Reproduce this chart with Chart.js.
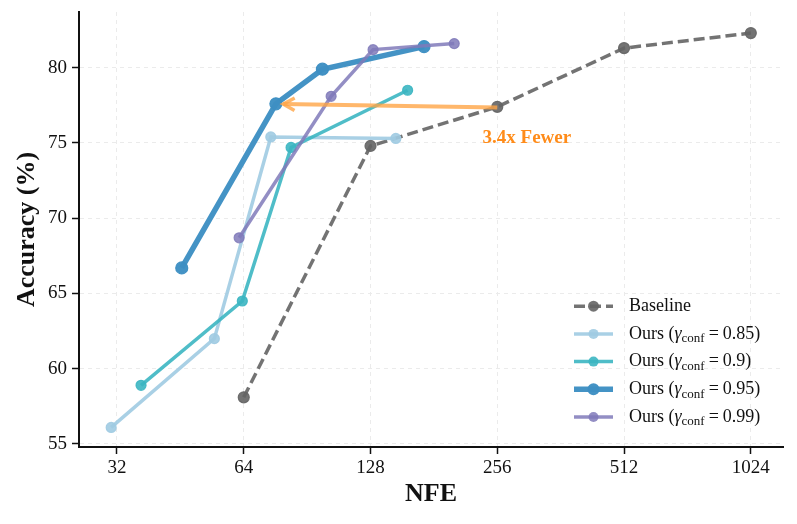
<!DOCTYPE html>
<html>
<head>
<meta charset="utf-8">
<script src="https://cdn.jsdelivr.net/npm/chart.js@4.4.1/dist/chart.umd.min.js"></script>
<style>
  html, body { margin: 0; padding: 0; background: #fff; }
  #wrap { width: 797px; height: 524px; }
</style>
</head>
<body>
<div id="wrap"><canvas id="chart" width="797" height="524"></canvas></div>
<script>
// values (NFE on a log2 axis)
const xTicks = [32, 64, 128, 256, 512, 1024];
const yTicks = [55, 60, 65, 70, 75, 80];

const baselineNfe = [64, 128, 256, 512, 1024];
const baselineAcc = [58.1, 74.8, 77.4, 81.3, 82.3];

const conf085Nfe = [31, 54.5, 74.2, 147];
const conf085Acc = [56.1, 62.0, 75.4, 75.3];

const conf09Nfe = [36.5, 63.5, 82.9, 156.8];
const conf09Acc = [58.9, 64.5, 74.7, 78.5];

const conf095Nfe = [45.6, 76.3, 98.4, 171.5];
const conf095Acc = [66.7, 77.6, 79.9, 81.4];

const conf099Nfe = [62.4, 103.2, 129.8, 202.3];
const conf099Acc = [68.7, 78.1, 81.2, 81.6];

const gammas = ['0.85', '0.9', '0.95', '0.99'];

// annotation: arrow from baseline@256 to ours@0.95
const arrowFrom = [256, 77.36];
const arrowTo = [79.4, 77.58];
const noteAt = [301, 75.3];
const noteText = '3.4x Fewer';

const SERIF = "'Liberation Serif', 'DejaVu Serif', serif";
Chart.defaults.font.family = SERIF;
Chart.defaults.color = '#111';

function pts(xs, ys) {
  return xs.map((x, i) => ({ x: x, y: ys[i] }));
}

function series(label, gamma, xs, ys, color, width, radius, order, dash) {
  return {
    label: label,
    gamma: gamma,
    data: pts(xs, ys),
    borderColor: color,
    backgroundColor: color,
    pointBackgroundColor: color,
    pointBorderColor: color,
    pointBorderWidth: 1.2,
    borderWidth: width,
    pointRadius: radius,
    borderDash: dash || [],
    order: order,
    tension: 0
  };
}

const arrowPlugin = {
  id: 'arrowNote',
  afterDatasetsDraw(chart) {
    const ctx = chart.ctx;
    const xs = chart.scales.x, ys = chart.scales.y;
    const x0 = xs.getPixelForValue(arrowFrom[0]), y0 = ys.getPixelForValue(arrowFrom[1]);
    const x1 = xs.getPixelForValue(arrowTo[0]), y1 = ys.getPixelForValue(arrowTo[1]);
    const ang = Math.atan2(y1 - y0, x1 - x0);
    ctx.save();
    ctx.strokeStyle = 'rgba(255,165,70,0.8)';
    ctx.lineWidth = 4;
    ctx.beginPath();
    ctx.moveTo(x0, y0);
    ctx.lineTo(x1, y1);
    ctx.stroke();
    const hl = 13;
    ctx.lineWidth = 3.5;
    ctx.beginPath();
    ctx.moveTo(x1 - hl * Math.cos(ang - 0.5), y1 - hl * Math.sin(ang - 0.5));
    ctx.lineTo(x1, y1);
    ctx.lineTo(x1 - hl * Math.cos(ang + 0.5), y1 - hl * Math.sin(ang + 0.5));
    ctx.stroke();

    ctx.fillStyle = '#ff8c1a';
    ctx.font = 'bold 19px ' + SERIF;
    ctx.textAlign = 'center';
    ctx.textBaseline = 'middle';
    ctx.fillText(noteText, xs.getPixelForValue(noteAt[0]), ys.getPixelForValue(noteAt[1]));
    ctx.restore();
  }
};

// legend drawn by hand so the gamma subscript can be shown
const legendPlugin = {
  id: 'mathLegend',
  afterDraw(chart) {
    const ctx = chart.ctx;
    const area = chart.chartArea;
    const sets = chart.data.datasets;
    const rowH = 27.7;
    const top = area.bottom - 30 - rowH * (sets.length - 1);
    const lx0 = area.right - 209, lx1 = area.right - 170, tx = area.right - 154;
    sets.forEach((ds, i) => {
      const y = top + i * rowH;
      ctx.save();
      ctx.strokeStyle = ds.borderColor;
      ctx.lineWidth = ds.borderWidth;
      ctx.setLineDash(ds.borderDash);
      ctx.beginPath();
      ctx.moveTo(lx0, y);
      ctx.lineTo(lx1, y);
      ctx.stroke();
      ctx.setLineDash([]);
      ctx.fillStyle = ds.pointBackgroundColor;
      ctx.beginPath();
      ctx.arc((lx0 + lx1) / 2, y, ds.pointRadius, 0, Math.PI * 2);
      ctx.fill();

      ctx.fillStyle = '#111';
      ctx.textAlign = 'left';
      ctx.textBaseline = 'middle';
      let x = tx;
      const put = (s, font, dy) => {
        ctx.font = font;
        ctx.fillText(s, x, y + dy);
        x += ctx.measureText(s).width;
      };
      const reg = '18px ' + SERIF;
      if (ds.gamma) {
        put('Ours (', reg, 0);
        put('\u03b3', 'italic 18px ' + SERIF, 0);
        put('conf', '13px ' + SERIF, 5);
        x += 4;
        put('=', reg, 0);
        x += 4;
        put(ds.gamma + ')', reg, 0);
      } else {
        put(ds.label, reg, 0);
      }
      ctx.restore();
    });
  }
};

const gridOpts = { color: '#ebebeb', lineWidth: 1, tickColor: '#111', tickLength: 7, tickWidth: 1.5 };
const borderOpts = { color: '#111', width: 2, dash: [4, 4] };

new Chart(document.getElementById('chart'), {
  type: 'line',
  data: {
    datasets: [
      series('Baseline', null, baselineNfe, baselineAcc, 'rgba(100,100,100,0.9)', 3.5, 5.5, 5, [11, 5]),
      series('Ours 0.85', gammas[0], conf085Nfe, conf085Acc, 'rgba(160,203,226,0.9)', 3.5, 5, 4),
      series('Ours 0.9', gammas[1], conf09Nfe, conf09Acc, 'rgba(60,182,194,0.9)', 3.5, 5, 3),
      series('Ours 0.95', gammas[2], conf095Nfe, conf095Acc, 'rgba(62,144,195,0.97)', 5.5, 6, 2),
      series('Ours 0.99', gammas[3], conf099Nfe, conf099Acc, 'rgba(128,122,186,0.85)', 3.5, 5, 1)
    ]
  },
  options: {
    responsive: false,
    animation: false,
    devicePixelRatio: 1,
    layout: { padding: { top: 12, right: 14, left: 0, bottom: 0 } },
    plugins: {
      legend: { display: false },
      tooltip: { enabled: false }
    },
    scales: {
      x: {
        type: 'logarithmic',
        min: 26,
        max: 1221,
        afterBuildTicks: s => { s.ticks = xTicks.map(v => ({ value: v })); },
        afterFit: s => { s.height = 77; },
        ticks: { callback: v => String(v), autoSkip: false, maxRotation: 0, font: { size: 19 }, padding: 3 },
        grid: gridOpts,
        border: borderOpts,
        title: { display: true, text: 'NFE', font: { size: 26, weight: 'bold' }, padding: { top: 0, bottom: 14 } }
      },
      y: {
        min: 54.8,
        max: 83.7,
        afterBuildTicks: s => { s.ticks = yTicks.map(v => ({ value: v })); },
        afterFit: s => { s.width = 79; s.paddingTop = 0; s.paddingBottom = 0; },
        ticks: { font: { size: 19 }, padding: 5 },
        grid: gridOpts,
        border: borderOpts,
        title: { display: true, text: 'Accuracy (%)', font: { size: 26, weight: 'bold' }, padding: { top: 12, bottom: 0 } }
      }
    }
  },
  plugins: [arrowPlugin, legendPlugin]
});
</script>
</body>
</html>
